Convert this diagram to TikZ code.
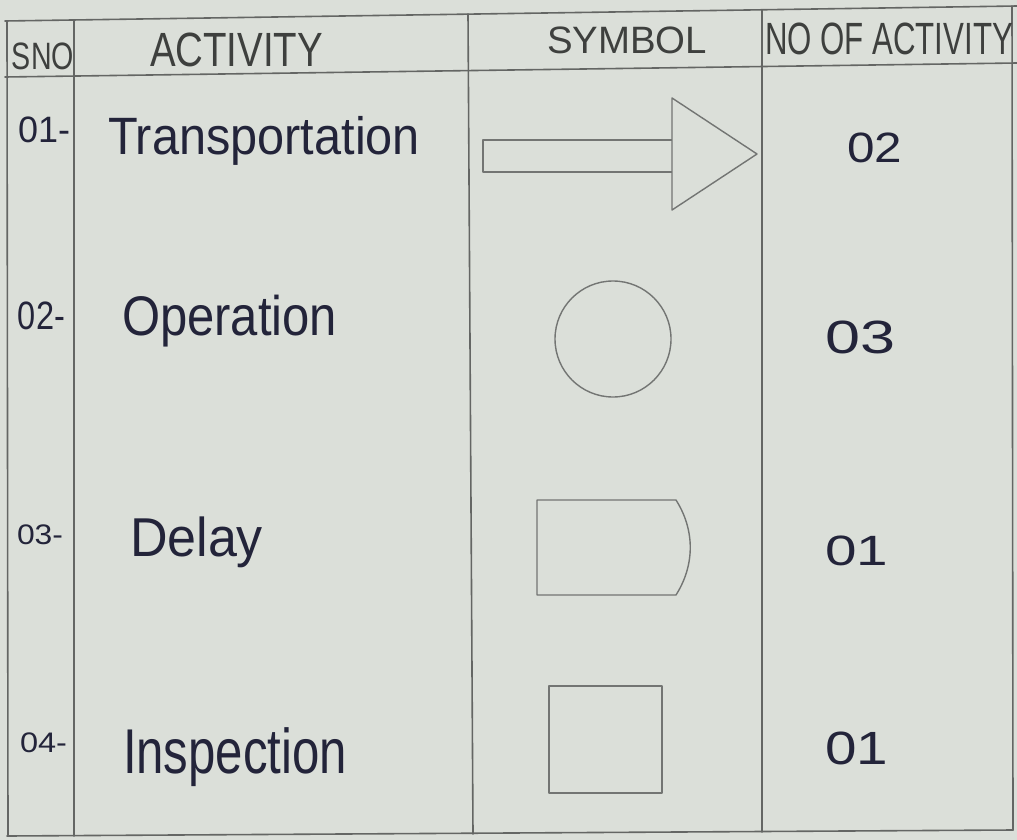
\documentclass[tikz,border=0pt]{standalone}
\usepackage{fontspec}
\setmainfont{Liberation Sans}
\usepackage{graphicx}
\definecolor{paper}{RGB}{219,223,217}
\definecolor{rulec}{RGB}{100,102,100}
\definecolor{symc}{RGB}{115,117,115}
\definecolor{ink}{RGB}{35,36,58}
\definecolor{pencil}{RGB}{62,64,62}
\newcommand{\fitbox}[3]{\resizebox*{#1pt}{#2pt}{#3}}
\begin{document}
\begin{tikzpicture}[x=1pt,y=-1pt,
  tline/.style={draw=rulec,line width=1.6pt,line cap=round},
  symb/.style={draw=symc,line width=1.4pt,line join=round},
  txt/.style={anchor=north west,inner sep=0pt,outer sep=0pt,text=ink},
  hdr/.style={txt,text=pencil}]
\fill[paper] (0,0) rectangle (1017,840);
\useasboundingbox (0,0) rectangle (1017,840);
% table rules
\coordinate (tl) at (5,21);   \coordinate (tr) at (1017,6);
\coordinate (hl) at (5,77);   \coordinate (hr) at (1017,63);
\coordinate (bl) at (7,836);  \coordinate (br) at (1013,830);
\draw[tline] (tl) -- (tr);
\draw[tline] (hl) -- (hr);
\draw[tline] (bl) -- (br);
\coordinate (c0t) at (7,21);    \coordinate (c0b) at (8,836);
\coordinate (c1t) at (74,20);   \coordinate (c1b) at (74,836);
\coordinate (c2t) at (468,14);  \coordinate (c2b) at (473,834);
\coordinate (c3t) at (762,10);  \coordinate (c3b) at (762,832);
\coordinate (c4t) at (1012,6);  \coordinate (c4b) at (1013,830);
\draw[tline] (c0t) -- (c0b);
\draw[tline] (c1t) -- (c1b);
\draw[tline] (c2t) -- (c2b);
\draw[tline] (c3t) -- (c3b);
\draw[tline] (c4t) -- (c4b);
% header
\node[hdr] (hsno) at (12,43) {\fitbox{62}{27}{SNO}};
\node[hdr] (hact) at (150,33) {\fitbox{173}{34}{ACTIVITY}};
\node[hdr] (hsym) at (547,27) {\fitbox{160}{27}{SYMBOL}};
\node[hdr] (hno) at (765,23) {\fitbox{248}{32}{NO OF ACTIVITY}};
% serial numbers
\node[txt] (s1) at (18,117) {\fitbox{52}{26}{01-}};
\node[txt] (s2) at (18,302) {\fitbox{47}{28}{02-}};
\node[txt] (s3) at (17,525) {\fitbox{46}{20}{03-}};
\node[txt] (s4) at (20,733) {\fitbox{47}{20}{04-}};
% activities
\node[txt] (a1) at (108,116) {\fitbox{312}{49}{Transportation}};
\node[txt] (a2) at (122,295) {\fitbox{215}{52}{Operation}};
\node[txt] (a3) at (130,517) {\fitbox{133}{51}{Delay}};
\node[txt] (a4) at (123,728) {\fitbox{224}{59}{Inspection}};
% counts
\node[txt] (n1) at (847,133) {\fitbox{55}{30}{02}};
\node[txt] (n2) at (825,321) {\fitbox{70}{33}{03}};
\node[txt] (n3) at (825,536) {\fitbox{63}{30}{01}};
\node[txt] (n4) at (825,732) {\fitbox{63}{33}{01}};
% symbols
\draw[symb] (672,140) -- (483,140) -- (483,172) -- (672,172);
\draw[symb] (672,98) -- (757,154) -- (672,210) -- cycle;
\draw[symb] (613,339) circle[radius=58];
\draw[symb] (537,500) -- (676,500) .. controls (695,530) and (695,565) .. (676,595) -- (537,595) -- cycle;
\draw[symb] (549,686) rectangle (662,793);
\end{tikzpicture}
\end{document}
